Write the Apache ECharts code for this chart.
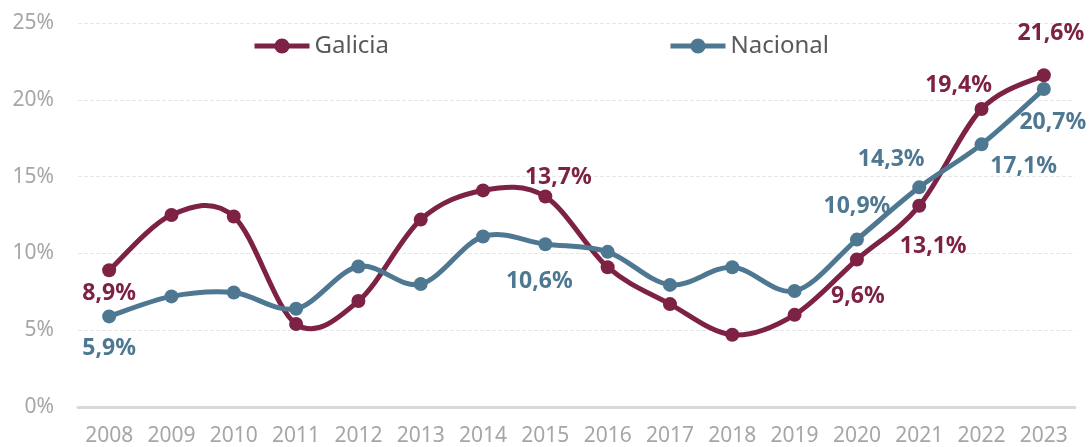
<!DOCTYPE html>
<html>
<head>
<meta charset="utf-8">
<script src="https://cdn.jsdelivr.net/npm/echarts@6/dist/echarts.min.js"></script>
<style>
    html, body {margin: 0; padding: 0; background: #fff;}
    #chart {width: 1091px; height: 447px;}
</style>
</head>
<body>
<div id="chart"></div>
<script>
const years = ['2008', '2009', '2010', '2011', '2012', '2013', '2014', '2015',
    '2016', '2017', '2018', '2019', '2020', '2021', '2022', '2023']
const galicia = [8.9, 12.5, 12.4, 5.4, 6.9, 12.2, 14.1, 13.7, 9.1, 6.7, 4.7, 6.0, 9.6, 13.1, 19.4, 21.6]
const nacional = [5.9, 7.2, 7.45, 6.4, 9.15, 8.0, 11.1, 10.6, 10.1, 7.95, 9.1, 7.55, 10.9, 14.3, 17.1, 20.7]
const yTicks = [0, 5, 10, 15, 20, 25]

// which points get a value label, and where the text sits relative to the point
const galiciaLabels = {0: [0, 23], 7: [13, -19], 12: [1, 37], 13: [14, 41], 14: [-23, -24], 15: [7, -42]}
const nacionalLabels = {0: [0, 32], 7: [-6, 37], 12: [0, -33], 13: [-28, -28], 14: [42, 22], 15: [9, 33]}

const FONT = '"Noto Sans", "DejaVu Sans", sans-serif'
const RED = '#7d2145'
const BLUE = '#4e7891'

function fmt(v) {
    return v.toFixed(1).replace('.', ',') + '%'
}

function buildData(values, labels, color) {
    return values.map((v, i) => {
        let item = {value: v}
        if (labels[i]) {
            item.label = {
                show: true,
                position: 'inside',
                offset: labels[i],
                formatter: fmt(v),
                color: color,
                fontFamily: FONT,
                fontWeight: 'bold',
                fontSize: 23,
                align: 'center',
                verticalAlign: 'middle'
            }
        }
        return item
    })
}

// smooth curve like the spreadsheet one (catmull-rom, may overshoot), one bezier per segment
function curveSeries(values, color) {
    let n = values.length
    return {
        type: 'custom',
        silent: true,
        animation: false,
        data: values.map((v, i) => [i, v]),
        encode: {x: 0, y: 1},
        renderItem: function (params, api) {
            let i = params.dataIndex
            if (i >= n - 1) return null
            let p = k => api.coord([Math.max(0, Math.min(n - 1, k)), values[Math.max(0, Math.min(n - 1, k))]])
            let p0 = p(i - 1), p1 = p(i), p2 = p(i + 1), p3 = p(i + 2)
            return {
                type: 'bezierCurve',
                shape: {
                    x1: p1[0], y1: p1[1],
                    x2: p2[0], y2: p2[1],
                    cpx1: p1[0] + (p2[0] - p0[0]) / 6,
                    cpy1: p1[1] + (p2[1] - p0[1]) / 6,
                    cpx2: p2[0] - (p3[0] - p1[0]) / 6,
                    cpy2: p2[1] - (p3[1] - p1[1]) / 6
                },
                style: {stroke: color, lineWidth: 5, fill: null, lineCap: 'round'}
            }
        }
    }
}

function pointSeries(name, values, labels, color) {
    return {
        name: name,
        type: 'line',
        symbol: 'circle',
        symbolSize: 14,
        data: buildData(values, labels, color),
        itemStyle: {color: color},
        lineStyle: {color: color, width: 5, opacity: 0},
        label: {show: false},
        emphasis: {disabled: true},
        animation: false
    }
}

let chart = echarts.init(document.getElementById('chart'))
chart.setOption({
    backgroundColor: '#fff',
    animation: false,
    grid: {left: 78, right: 16, top: 23, bottom: 39},
    legend: {
        top: 29,
        left: 247,
        itemWidth: 55,
        itemHeight: 19,
        itemGap: 279,
        lineStyle: {width: 5, opacity: 1},
        textStyle: {fontFamily: FONT, fontSize: 24, color: '#595959'},
        data: ['Galicia', 'Nacional']
    },
    xAxis: {
        type: 'category',
        data: years,
        boundaryGap: true,
        axisLine: {lineStyle: {color: '#d9d9d9', width: 3}},
        axisTick: {show: false},
        axisLabel: {color: '#a6a6a6', fontFamily: FONT, fontSize: 21, margin: 19, interval: 0}
    },
    yAxis: {
        type: 'value',
        min: yTicks[0],
        max: yTicks[yTicks.length - 1],
        interval: 5,
        axisLine: {show: false},
        axisTick: {show: false},
        splitLine: {lineStyle: {color: '#e8e8e8', type: 'dashed', width: 1}},
        axisLabel: {
            color: '#a6a6a6', fontFamily: FONT, fontSize: 21, margin: 24,
            formatter: '{value}%'
        }
    },
    series: [
        curveSeries(galicia, RED),
        pointSeries('Galicia', galicia, galiciaLabels, RED),
        curveSeries(nacional, BLUE),
        pointSeries('Nacional', nacional, nacionalLabels, BLUE)
    ]
})
</script>
</body>
</html>
